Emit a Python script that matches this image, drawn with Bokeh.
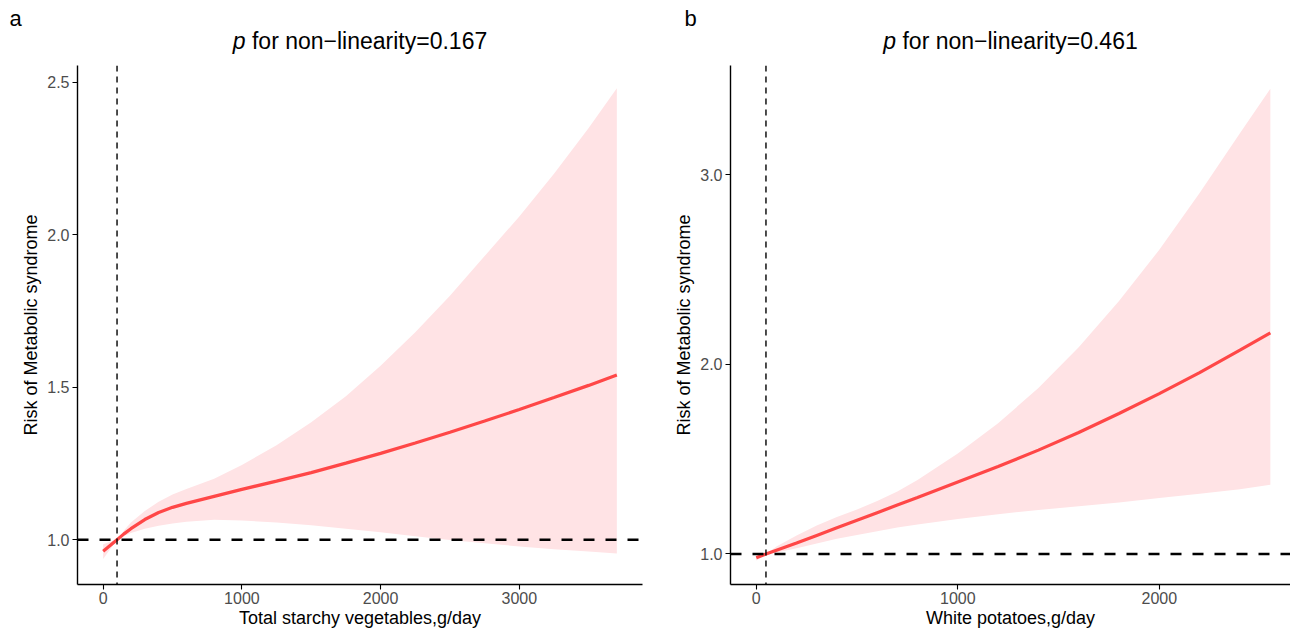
from bokeh.plotting import figure
from bokeh.models import Span, FixedTicker, Range1d
from bokeh.layouts import row, column
from bokeh.core.properties import value
from bokeh.embed import file_html
from bokeh.resources import INLINE

FONT = "Liberation Sans"

# ---------------- data: panel a ----------------
a_x = [0, 50, 100, 150, 200, 300, 400, 500, 600, 800, 1000, 1250, 1500, 1750,
       2000, 2250, 2500, 2750, 3000, 3250, 3500, 3703]
a_fit = [0.962, 0.981, 1.000, 1.019, 1.036, 1.066, 1.089, 1.106, 1.119, 1.142, 1.165,
         1.192, 1.220, 1.251, 1.283, 1.317, 1.352, 1.389, 1.427, 1.466, 1.506, 1.540]
a_hi = [0.985, 0.993, 1.000, 1.030, 1.056, 1.094, 1.124, 1.148, 1.166, 1.200, 1.245,
        1.310, 1.385, 1.470, 1.570, 1.680, 1.800, 1.930, 2.060, 2.200, 2.350, 2.480]
a_lo = [0.937, 0.969, 1.000, 1.012, 1.022, 1.036, 1.046, 1.053, 1.059, 1.065, 1.063,
        1.056, 1.047, 1.036, 1.024, 1.011, 0.999, 0.988, 0.978, 0.969, 0.961, 0.955]
a_ref = 100
a_letter = "a"
a_title_p = "p"
a_title_rest = "for non\u2212linearity=0.167"
a_xlabel = "Total starchy vegetables,g/day"
a_xticks = [0, 1000, 2000, 3000]
a_xticklabels = ["0", "1000", "2000", "3000"]
a_yticks = [1.0, 1.5, 2.0, 2.5]
a_yticklabels = ["1.0", "1.5", "2.0", "2.5"]

# ---------------- data: panel b ----------------
b_x = [0, 48, 100, 200, 300, 400, 500, 600, 700, 800, 1000, 1200, 1400, 1600,
       1800, 2000, 2200, 2400, 2551]
b_fit = [0.980, 1.000, 1.020, 1.058, 1.098, 1.138, 1.178, 1.218, 1.258, 1.298, 1.380,
         1.461, 1.548, 1.641, 1.741, 1.846, 1.957, 2.075, 2.167]
b_hi = [0.995, 1.000, 1.040, 1.097, 1.150, 1.195, 1.235, 1.280, 1.330, 1.390, 1.530,
        1.690, 1.875, 2.090, 2.335, 2.605, 2.905, 3.220, 3.455]
b_lo = [0.965, 1.000, 1.008, 1.030, 1.055, 1.080, 1.100, 1.120, 1.140, 1.155, 1.185,
        1.210, 1.232, 1.252, 1.272, 1.295, 1.318, 1.342, 1.365]
b_ref = 48
b_letter = "b"
b_title_p = "p"
b_title_rest = "for non\u2212linearity=0.461"
b_xlabel = "White potatoes,g/day"
b_xticks = [0, 1000, 2000]
b_xticklabels = ["0", "1000", "2000"]
b_yticks = [1.0, 2.0, 3.0]
b_yticklabels = ["1.0", "2.0", "3.0"]

ylabel = "Risk of Metabolic syndrome"

LINE_COLOR = "#FF4747"
BAND_COLOR = "#FFE3E5"

HEAD_H = 63
PANEL_H = 567
TOP = 2
BOTTOM = 46
TSIZE = 23


def make_header(width, letter, tp, trest, title_cx, letter_x):
    h = figure(width=width, height=HEAD_H, x_range=Range1d(0, width),
               y_range=Range1d(HEAD_H, 0), output_backend="svg",
               toolbar_location=None, x_axis_location=None, y_axis_location=None,
               min_border=0)
    h.outline_line_color = None
    h.grid.visible = False
    pw = 0.556 * TSIZE
    sw = 0.278 * TSIZE
    total = pw + sw + 10.228 * TSIZE
    x0 = title_cx - total / 2.0
    h.text(x=[x0], y=[40], text=[tp], text_font=value(FONT),
           text_font_size=f"{TSIZE}px", text_font_style="italic",
           text_align="left", text_baseline="middle", text_color="black")
    h.text(x=[x0 + pw + sw], y=[40], text=[trest], text_font=value(FONT),
           text_font_size=f"{TSIZE}px", text_align="left",
           text_baseline="middle", text_color="black")
    h.text(x=[letter_x], y=[18], text=[letter], text_font=value(FONT),
           text_font_size="22px", text_align="left", text_baseline="middle",
           text_color="black")
    return h


def make_panel(xlabel, xs, fit, lo, hi, ref, xr, yr,
               xticks, xticklabels, yticks, yticklabels, width, bl, br):
    p = figure(width=width, height=PANEL_H, x_range=Range1d(*xr), y_range=Range1d(*yr),
               output_backend="svg", toolbar_location=None,
               min_border_left=bl, min_border_right=br,
               min_border_top=TOP, min_border_bottom=BOTTOM)
    p.outline_line_color = None
    p.xgrid.visible = False
    p.ygrid.visible = False
    p.background_fill_color = "white"
    p.border_fill_color = "white"

    p.varea(x=xs, y1=lo, y2=hi, fill_color=BAND_COLOR, fill_alpha=1.0)
    p.line(x=xs, y=fit, line_color=LINE_COLOR, line_width=3.2)

    p.add_layout(Span(location=1.0, dimension="width", line_color="black",
                      line_width=2.5, line_dash="11 11"))
    p.add_layout(Span(location=ref, dimension="height", line_color="black",
                      line_width=1.4, line_dash="6 5"))

    for ax, ticks, labels in ((p.xaxis[0], xticks, xticklabels),
                              (p.yaxis[0], yticks, yticklabels)):
        ax.ticker = FixedTicker(ticks=ticks)
        ax.major_label_overrides = {t: l for t, l in zip(ticks, labels)}
        ax.axis_line_color = "black"
        ax.axis_line_width = 1.4
        ax.major_tick_line_color = "black"
        ax.major_tick_line_width = 1.1
        ax.major_tick_out = 5
        ax.major_tick_in = 0
        ax.minor_tick_line_color = None
        ax.major_label_text_font = FONT
        ax.major_label_text_font_size = "16px"
        ax.major_label_text_color = "#4D4D4D"
        ax.major_label_standoff = 3
        ax.axis_label_text_font = FONT
        ax.axis_label_text_font_size = "18px"
        ax.axis_label_text_font_style = "normal"
        ax.axis_label_text_color = "black"
        ax.axis_label_standoff = 3
    p.xaxis[0].axis_label = xlabel
    p.yaxis[0].axis_label = ylabel
    p.xaxis[0].major_label_standoff = 2
    p.xaxis[0].axis_label_standoff = 1
    return p


WA, WB = 668, 622
ha = make_header(WA, a_letter, a_title_p, a_title_rest, (77 + 642) / 2.0, 9)
hb = make_header(WB, b_letter, b_title_p, b_title_rest, 62 + 560 / 2.0, 16)

pa = make_panel(a_xlabel, a_x, a_fit, a_lo, a_hi, a_ref,
                (-185, 3888), (0.853, 2.555), a_xticks, a_xticklabels,
                a_yticks, a_yticklabels, width=WA, bl=77, br=26)
pb = make_panel(b_xlabel, b_x, b_fit, b_lo, b_hi, b_ref,
                (-128, 2651), (0.839, 3.577), b_xticks, b_xticklabels,
                b_yticks, b_yticklabels, width=WB, bl=62, br=0)

layout = column(row(ha, hb), row(pa, pb))
open("out.html", "w").write(file_html(layout, INLINE))
